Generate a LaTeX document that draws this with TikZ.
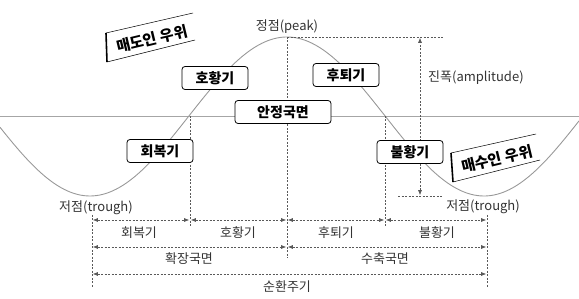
\documentclass[tikz,border=0pt]{standalone}
\usepackage{fontspec}
\setmainfont{Noto Sans CJK KR}
\usetikzlibrary{arrows.meta}
\begin{document}
\begin{tikzpicture}[x=1pt,y=-1pt,
  lbl/.style={text=black!80, font=\fontsize{13}{15}\selectfont, inner sep=0},
  boxn/.style={draw=black, line width=0.8pt, rounded corners=3pt, fill=white, minimum width=66pt, minimum height=23pt, inner sep=0, font=\fontsize{14}{16}\selectfont\bfseries},
  dsh/.style={draw=black!65, line width=0.6pt, dash pattern=on 2pt off 1.5pt},
  dim/.style={dsh, {Latex[length=5pt,width=4pt]}-{Latex[length=5pt,width=4pt]}, shorten <=0.8pt, shorten >=0.8pt},
  tagtext/.style={font=\fontsize{15}{17}\selectfont\bfseries, inner sep=0},
  tagline/.style={draw=black, line width=0.5pt},
  tagedge/.style={draw=black, line width=1.6pt},
  curve/.style={draw=black!40, line width=0.9pt},
  base/.style={draw=black!35, line width=0.8pt}
]
\useasboundingbox (0,0) rectangle (579,299);
% baseline
\coordinate (bl) at (0,116);
\coordinate (br) at (579,116);
\draw[base] (bl) -- (br);
% sine curve
\draw[curve] plot[domain=0:579, samples=200] (\x, {116.5+79.5*cos((\x-90)/394*360)});
% key coordinates
\coordinate (pk) at (287,37);
\coordinate (pkR) at (443,37);
\coordinate (c1) at (190,116);
\coordinate (c2) at (385,116);
\coordinate (pkB) at (287,258);
\coordinate (c1B) at (190,228);
\coordinate (c2B) at (385,228);
\coordinate (lT) at (92,215);
\coordinate (lB) at (92,288);
\coordinate (rT) at (487,215);
\coordinate (rB) at (487,288);
\coordinate (aT) at (420,37);
\coordinate (aB) at (420,196);
\coordinate (tL) at (398,196);
\coordinate (tR) at (442,196);
% vertical dashed lines
\draw[dsh] (pk) -- (pkB);
\draw[dsh] (pk) -- (pkR);
\draw[dsh] (c1) -- (c1B);
\draw[dsh] (c2) -- (c2B);
\draw[dsh] (lT) -- (lB);
\draw[dsh] (rT) -- (rB);
\draw[dsh] (tL) -- (tR);
% amplitude
\draw[dim] (aB) -- (aT);
% dimension rows
\coordinate (r1a) at (92,220);
\coordinate (r1b) at (190,220);
\coordinate (r1c) at (287,220);
\coordinate (r1d) at (385,220);
\coordinate (r1e) at (487,220);
\draw[dim] (r1a) -- (r1b);
\draw[dim] (r1b) -- (r1c);
\draw[dim] (r1c) -- (r1d);
\draw[dim] (r1d) -- (r1e);
\coordinate (r2a) at (92,247);
\coordinate (r2b) at (287,247);
\coordinate (r2c) at (487,247);
\draw[dim] (r2a) -- (r2b);
\draw[dim] (r2b) -- (r2c);
\coordinate (r3a) at (92,274);
\coordinate (r3b) at (487,274);
\draw[dim] (r3a) -- (r3b);
% row labels
\node[lbl] (l1) at (139,233) {회복기};
\node[lbl] (l2) at (238,233) {호황기};
\node[lbl] (l3) at (336,233) {후퇴기};
\node[lbl] (l4) at (437,233) {불황기};
\node[lbl] (l5) at (189,259) {확장국면};
\node[lbl] (l6) at (385,259) {수축국면};
\node[lbl] (l7) at (287,287) {순환주기};
% other labels
\node[lbl] (peak) at (287,27) {정점(peak)};
\node[lbl] (tr1) at (96,208) {저점(trough)};
\node[lbl] (tr2) at (483,207) {저점(trough)};
\node[lbl, anchor=west] (amp) at (428,78) {진폭(amplitude)};
% boxes
\node[boxn] (b1) at (215,78) {호황기};
\node[boxn] (b2) at (346,75) {후퇴기};
\node[boxn, minimum width=96pt] (b3) at (283,112) {안정국면};
\node[boxn] (b4) at (160,151) {회복기};
\node[boxn] (b5) at (410,152) {불황기};
% tag 1
\coordinate (s1a) at (106,33);
\coordinate (s1b) at (193,13);
\coordinate (s1c) at (195,40);
\coordinate (s1d) at (107,62);
\fill[white] (s1a) -- (s1b) -- (s1c) -- (s1d) -- cycle;
\draw[tagline] (s1a) -- (s1b);
\draw[tagline] (s1d) -- (s1c);
\draw[tagedge] (s1a) -- (s1d);
\node[tagtext, rotate=13.5] (t1) at (152,39) {매도인 우위};
% tag 2
\coordinate (s2a) at (451,153);
\coordinate (s2b) at (536,134);
\coordinate (s2c) at (540,160);
\coordinate (s2d) at (453,182);
\fill[white] (s2a) -- (s2b) -- (s2c) -- (s2d) -- cycle;
\draw[tagline] (s2a) -- (s2b);
\draw[tagline] (s2d) -- (s2c);
\draw[tagedge] (s2a) -- (s2d);
\node[tagtext, rotate=13.5] (t2) at (497,159) {매수인 우위};
\end{tikzpicture}
\end{document}
